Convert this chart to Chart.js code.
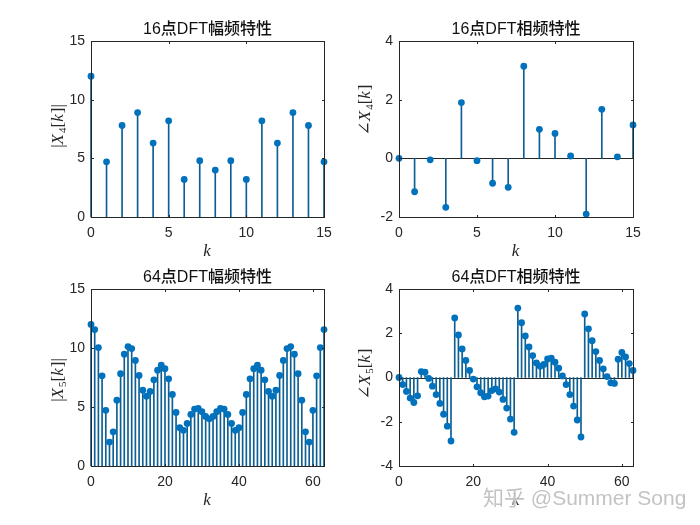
<!DOCTYPE html>
<html>
<head>
<meta charset="utf-8">
<script src="https://cdn.jsdelivr.net/npm/chart.js@4.4.1/dist/chart.umd.min.js"></script>
<style>
  html, body { margin: 0; padding: 0; background: #fff; }
  #wrap { position: relative; width: 700px; height: 525px; overflow: hidden; }
  canvas { position: absolute; }
  #mark {
    position: absolute; left: 483px; top: 481px;
    font: 21px "Liberation Sans", "Noto Sans CJK SC", sans-serif;
    color: rgba(180, 180, 180, 0.8); white-space: nowrap;
    text-shadow: 0 0 2px #fff, 0 0 2px #fff;
  }
</style>
</head>
<body>
<div id="wrap">
  <canvas id="c1" width="350" height="262" style="left:0;top:0"></canvas>
  <canvas id="c2" width="350" height="262" style="left:350px;top:0"></canvas>
  <canvas id="c3" width="350" height="263" style="left:0;top:262px"></canvas>
  <canvas id="c4" width="350" height="263" style="left:350px;top:262px"></canvas>
  <div id="mark">知乎 @Summer Song</div>
</div>
<script>
// Data
const k16 = [...Array(16).keys()];
const k64 = [...Array(64).keys()];

const mag16 = [12.0, 4.7, 7.8, 8.9, 6.3, 8.2, 3.2, 4.8, 4.0, 4.8, 3.2, 8.2, 6.3, 8.9, 7.8, 4.7];
const phase16 = [0, -1.14, -0.05, -1.67, 1.9, -0.08, -0.85, -0.99, 3.14, 0.99, 0.85, 0.08, -1.9, 1.67, 0.05, 1.14];

const mag64 = [
  12.0, 11.56, 10.04, 7.64, 4.72, 2.03, 2.9, 5.58, 7.82, 9.47, 10.12, 9.95, 8.95, 7.67, 6.43, 5.92,
  6.32, 7.3, 8.12, 8.54, 8.25, 7.39, 6.06, 4.54, 3.24, 3.02, 3.61, 4.37, 4.82, 4.88, 4.6, 4.2,
  4.0, 4.2, 4.6, 4.88, 4.82, 4.37, 3.61, 3.02, 3.24, 4.54, 6.06, 7.39, 8.25, 8.54, 8.12, 7.3,
  6.32, 5.92, 6.43, 7.67, 8.95, 9.95, 10.12, 9.47, 7.82, 5.58, 2.9, 2.03, 4.72, 7.64, 10.04, 11.56
];
const phase64 = [
  0, -0.32, -0.63, -0.93, -1.13, -0.83, 0.27, 0.24, -0.04, -0.39, -0.77, -1.17, -1.66, -2.2, -2.87, 2.69,
  1.92, 1.29, 0.77, 0.32, -0.07, -0.42, -0.69, -0.87, -0.84, -0.59, -0.51, -0.66, -0.99, -1.38, -1.88, -2.48,
  3.14, 2.48, 1.88, 1.38, 0.99, 0.66, 0.51, 0.59, 0.84, 0.87, 0.69, 0.42, 0.07, -0.32, -0.77, -1.29,
  -1.92, -2.69, 2.87, 2.2, 1.66, 1.17, 0.77, 0.39, 0.04, -0.24, -0.27, 0.83, 1.13, 0.93, 0.63, 0.32
];

const titles = ['16点DFT幅频特性', '16点DFT相频特性', '64点DFT幅频特性', '64点DFT相频特性'];

// tick labels
const xTicks16 = [0, 5, 10, 15];
const xTicks64 = [0, 20, 40, 60];
const yTicksMag = [0, 5, 10, 15];
const yTicksPh16 = [-2, 0, 2, 4];
const yTicksPh64 = [-4, -2, 0, 2, 4];

const BLUE = '#0072BD';
const STEM = '#0b5f93';
const AXIS = '#262626';
const TICK_FONT = { family: '"Liberation Sans", Arial, sans-serif', size: 14 };

// draw a LaTeX-like label made of pieces (italic letters, subscript digit)
function drawMath(ctx, parts, cx, cy, rotate) {
  const size = 17;
  const fontOf = p => (p.it ? 'italic ' : '') + (p.sub ? 11 : size) + 'px "Liberation Serif", "DejaVu Serif", serif';
  let total = 0;
  parts.forEach(p => { ctx.font = fontOf(p); p.w = ctx.measureText(p.t).width + (p.it ? 1 : 0); total += p.w; });
  ctx.save();
  ctx.translate(cx, cy);
  if (rotate) ctx.rotate(-Math.PI / 2);
  ctx.fillStyle = AXIS;
  ctx.textBaseline = 'alphabetic';
  ctx.textAlign = 'left';
  let x = -total / 2;
  parts.forEach(p => {
    ctx.font = fontOf(p);
    ctx.fillText(p.t, x, p.sub ? 9 : 6);
    x += p.w;
  });
  ctx.restore();
}

const framePlugin = {
  id: 'frame',
  beforeDatasetsDraw(chart) {
    const o = chart.options.plugins.frame;
    const { ctx, chartArea: a, scales } = chart;
    if (o.baseline) {
      const y0 = Math.round(scales.y.getPixelForValue(0)) + 0.5;
      ctx.save();
      ctx.strokeStyle = AXIS;
      ctx.lineWidth = 1;
      ctx.beginPath();
      ctx.moveTo(a.left, y0);
      ctx.lineTo(a.right, y0);
      ctx.stroke();
      ctx.restore();
    }
  },
  afterDraw(chart) {
    const o = chart.options.plugins.frame;
    const { ctx, chartArea: a, scales } = chart;
    ctx.save();
    ctx.strokeStyle = AXIS;
    ctx.lineWidth = 1;
    const L = Math.round(a.left) + 0.5, R = Math.round(a.right) + 0.5;
    const T = Math.round(a.top) + 0.5, B = Math.round(a.bottom) + 0.5;
    ctx.strokeRect(L, T, R - L, B - T);
    // inward ticks on all four sides
    ctx.beginPath();
    scales.x.ticks.forEach(t => {
      const px = Math.round(scales.x.getPixelForValue(t.value)) + 0.5;
      ctx.moveTo(px, B); ctx.lineTo(px, B - 2.5);
      ctx.moveTo(px, T); ctx.lineTo(px, T + 2.5);
    });
    scales.y.ticks.forEach(t => {
      const py = Math.round(scales.y.getPixelForValue(t.value)) + 0.5;
      ctx.moveTo(L, py); ctx.lineTo(L + 2.5, py);
      ctx.moveTo(R, py); ctx.lineTo(R - 2.5, py);
    });
    ctx.stroke();
    // title
    ctx.fillStyle = '#111';
    ctx.font = '500 16px "Liberation Sans", "Noto Sans CJK SC", sans-serif';
    ctx.textAlign = 'center';
    ctx.textBaseline = 'middle';
    ctx.fillText(o.title, (a.left + a.right) / 2, a.top - 11);
    ctx.restore();
    // axis labels
    drawMath(ctx, [{ t: 'k', it: true }], (a.left + a.right) / 2, a.bottom + 33, false);
    drawMath(ctx, o.ylabel, o.ylabelX, o.ylabelY, true);
  }
};

function makeChart(id, ks, values, cfg) {
  const stems = ks.map((k, i) => ({ x: k, y: values[i] }));
  const toTicks = arr => arr.map(v => ({ value: v }));
  return new Chart(document.getElementById(id), {
    type: 'bar',
    data: {
      datasets: [
        {
          type: 'scatter',
          data: stems,
          backgroundColor: BLUE,
          borderWidth: 0,
          pointRadius: 3.4,
          pointHoverRadius: 3.4,
          clip: false,
          order: 0
        },
        {
          type: 'bar',
          data: stems,
          backgroundColor: STEM,
          borderWidth: 0,
          barThickness: 1,
          clip: false,
          order: 1
        }
      ]
    },
    options: {
      responsive: false,
      animation: false,
      events: [],
      layout: { padding: { left: 0, top: cfg.top, right: cfg.right, bottom: 0 } },
      plugins: {
        legend: { display: false },
        tooltip: { enabled: false },
        frame: { title: cfg.title, baseline: cfg.baseline, ylabel: cfg.ylabel, ylabelX: cfg.ylabelX, ylabelY: cfg.ylabelY }
      },
      scales: {
        x: {
          type: 'linear',
          offset: false,
          min: 0,
          max: cfg.xmax,
          grid: { display: false, drawTicks: false },
          border: { display: false },
          ticks: { padding: 8, color: AXIS, font: TICK_FONT, maxRotation: 0, autoSkip: false },
          afterBuildTicks: s => { s.ticks = toTicks(cfg.xticks); },
          afterFit: s => { s.height = cfg.xh; }
        },
        y: {
          min: cfg.ymin,
          max: cfg.ymax,
          grid: { display: false, drawTicks: false },
          border: { display: false },
          ticks: { padding: 6, color: AXIS, font: TICK_FONT, autoSkip: false },
          afterBuildTicks: s => { s.ticks = toTicks(cfg.yticks); },
          afterFit: s => { s.width = cfg.left; }
        }
      }
    },
    plugins: [framePlugin]
  });
}

const lblMag = n => [{ t: '|' }, { t: 'X', it: true }, { t: n, sub: true }, { t: '[' }, { t: 'k', it: true }, { t: ']|' }];
const lblPh = n => [{ t: '∠' }, { t: 'X', it: true }, { t: n, sub: true }, { t: '[' }, { t: 'k', it: true }, { t: ']' }];

makeChart('c1', k16, mag16, {
  title: titles[0], top: 41, right: 26, left: 91, xh: 45, xmax: 15, xticks: xTicks16,
  ymin: 0, ymax: 15, yticks: yTicksMag, baseline: false, ylabel: lblMag('4'), ylabelX: 57, ylabelY: 126
});
makeChart('c2', k16, phase16, {
  title: titles[1], top: 41, right: 67, left: 49, xh: 45, xmax: 15, xticks: xTicks16,
  ymin: -2, ymax: 4, yticks: yTicksPh16, baseline: true, ylabel: lblPh('4'), ylabelX: 14, ylabelY: 110
});
makeChart('c3', k64, mag64, {
  title: titles[2], top: 27, right: 26, left: 91, xh: 59, xmax: 63, xticks: xTicks64,
  ymin: 0, ymax: 15, yticks: yTicksMag, baseline: false, ylabel: lblMag('5'), ylabelX: 57, ylabelY: 118
});
makeChart('c4', k64, phase64, {
  title: titles[3], top: 27, right: 67, left: 49, xh: 59, xmax: 63, xticks: xTicks64,
  ymin: -4, ymax: 4, yticks: yTicksPh64, baseline: true, ylabel: lblPh('5'), ylabelX: 14, ylabelY: 112
});
</script>
</body>
</html>
